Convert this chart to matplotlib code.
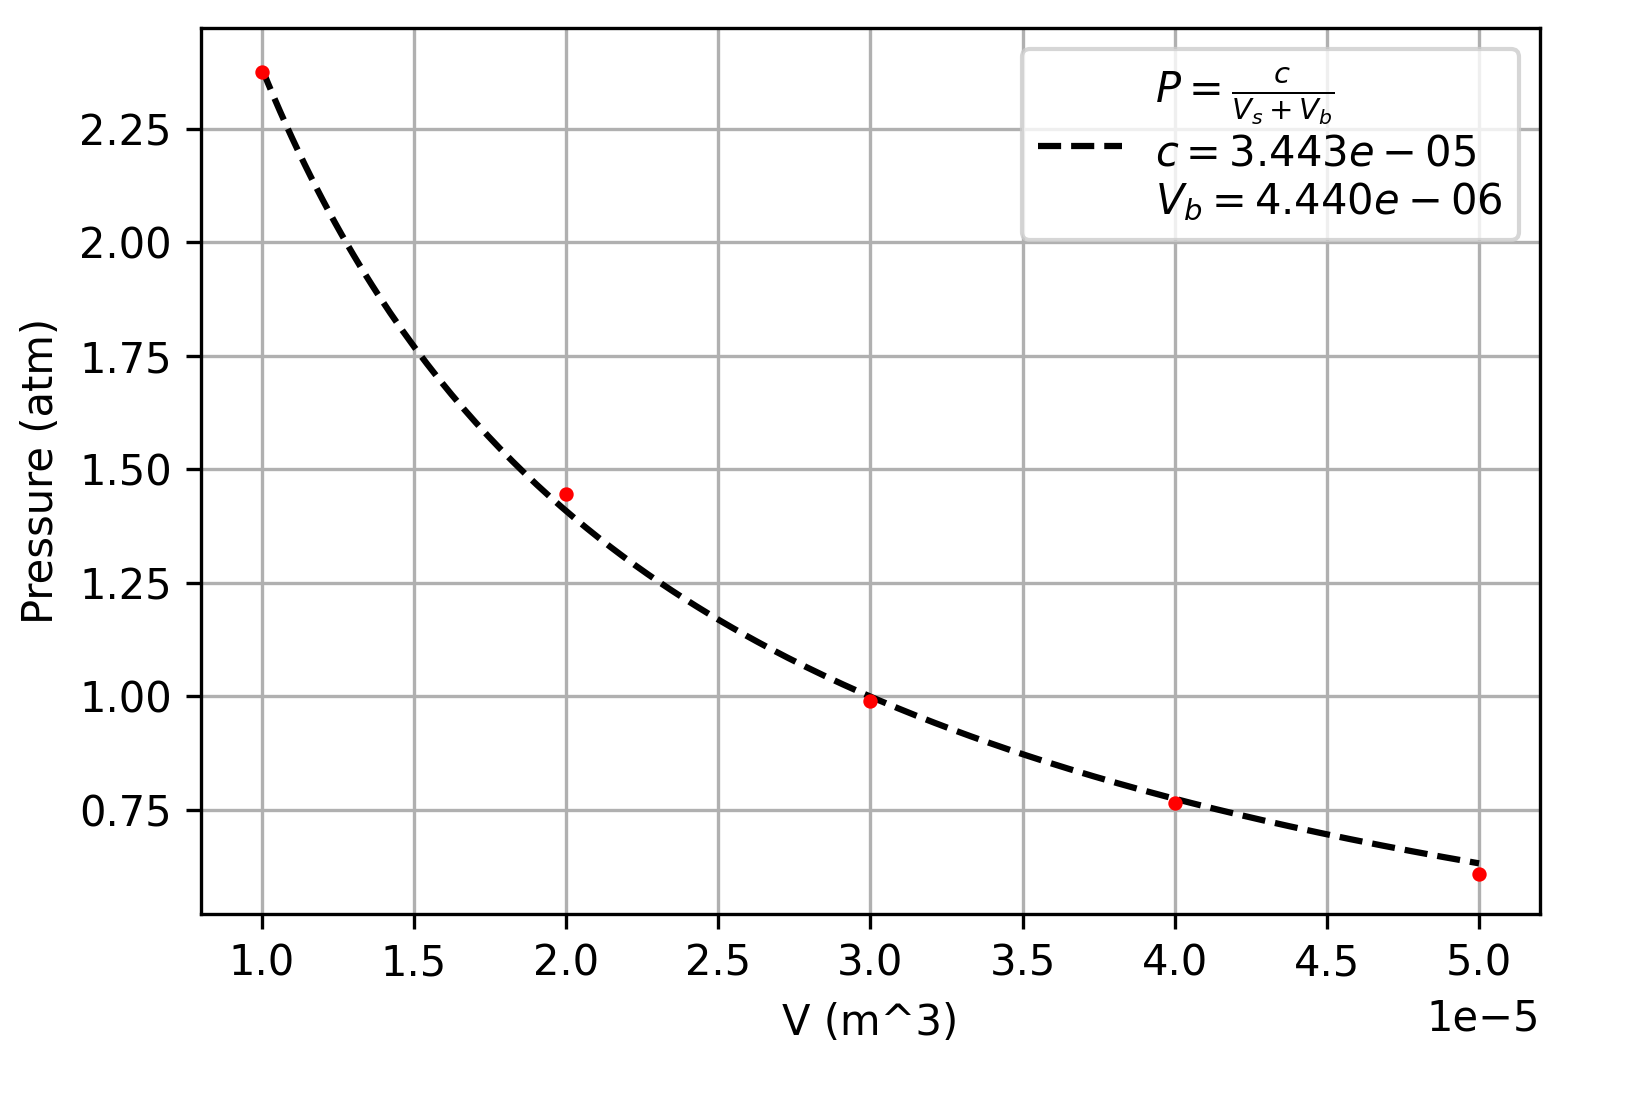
import numpy as np
import matplotlib
matplotlib.use("Agg")
import matplotlib.pyplot as plt

# measured data
V = [1e-5, 2e-5, 3e-5, 4e-5, 5e-5]
P = [2.375, 1.445, 0.99, 0.765, 0.61]

# fit parameters shown in the legend
c = 3.443e-05
Vb = 4.440e-06

fig, ax = plt.subplots(figsize=(1633 / 300, 1109 / 300), dpi=300)
fig.subplots_adjust(left=0.123, right=0.943, top=0.975, bottom=0.176)

ax.scatter(V, P, color="red", s=6, zorder=3)
Vs = np.linspace(V[0], V[-1], 200)
label = (r"$P=\frac{c}{V_s+V_b}$" + "\n" + r"$c=%.3e$" % c + "\n" + r"$V_b=%.3e$" % Vb)
ax.plot(Vs, c / (Vs + Vb), "k--", label=label)

ax.set_xlabel("V (m^3)")
ax.set_ylabel("Pressure (atm)")
ax.grid(True)
ax.legend(loc="upper right")

fig.savefig("out.png", dpi=300)
